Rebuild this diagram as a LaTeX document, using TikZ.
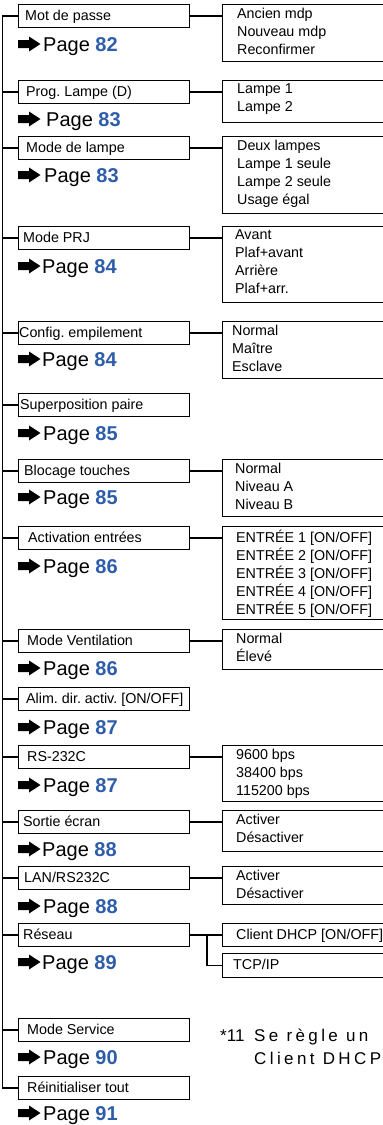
\documentclass[tikz,border=0pt]{standalone}
\usepackage{fontspec}
\setmainfont{Liberation Sans}
\newfontfamily\fnfont[LetterSpace=20]{Liberation Sans}
\definecolor{pgblue}{RGB}{46,94,170}
\tikzset{
  lbox/.style={draw, line width=1.1pt, anchor=north west, minimum width=171pt,
    minimum height=23pt, inner sep=0pt},
  ltext/.style={anchor=base west, inner sep=0pt, font=\fontsize{14.3}{17}\selectfont},
  rbox/.style={draw, line width=1.1pt, anchor=north west, minimum width=200pt, inner sep=0pt},
  items/.style={anchor=north west, inner sep=0pt, align=left,
    font=\fontsize{14.3}{18}\selectfont, execute at begin node=\strut},
  pagelbl/.style={anchor=base west, inner sep=0pt, font=\fontsize{20}{24}\selectfont},
  conn/.style={line width=1.4pt},
  fnote/.style={anchor=base west, inner sep=0pt, font=\fnfont\fontsize{17}{20}\selectfont},
  fmark/.style={anchor=base west, inner sep=0pt, font=\fontsize{17}{20}\selectfont}
}
\newcommand\lmenu[4]{%
  \node[lbox] (#1) at (18,#2) {};
  \node[ltext] (#1t) at (18+#3,#2+16.5) {#4};}
\newcommand\pg[4]{%
  \fill (18,#2-4) -- (29,#2-4) -- (29,#2-7.5) -- (40.5,#2) -- (29,#2+7.5) -- (29,#2+4) -- (18,#2+4) -- cycle;
  \node[pagelbl] (#1) at (#3,#2+7.2) {Page \textbf{\color{pgblue}#4}};}
\newcommand\rmenu[5]{%
  \node[rbox, minimum height=#3pt] (#1) at (222,#2) {};
  \node[items] (#1t) at (#4,#2+3.9) {#5};}
\begin{document}
\frenchspacing
\begin{tikzpicture}[x=1pt,y=-1pt]
\useasboundingbox (0,0) rectangle (383,1125);
\clip (0,0) rectangle (383,1125);
\coordinate (trunk) at (2.5,0);
\coordinate (rj) at (207,0);
% left menu boxes
\lmenu{b1}{4}{7}{Mot de passe}
\lmenu{b2}{80}{8}{Prog. Lampe (D)}
\lmenu{b3}{136}{8}{Mode de lampe}
\lmenu{b4}{226}{5}{Mode PRJ}
\lmenu{b5}{321}{1}{Config. empilement}
\lmenu{b6}{393}{2}{Superposition paire}
\lmenu{b7}{459}{6}{Blocage touches}
\lmenu{b8}{526}{10}{Activation entrées}
\lmenu{b9}{629}{9}{Mode Ventilation}
\lmenu{b10}{687}{8}{Alim. dir. activ. [ON/OFF]}
\lmenu{b11}{745}{9}{RS-232C}
\lmenu{b12}{810}{5}{Sortie écran}
\lmenu{b13}{866}{6}{LAN/RS232C}
\lmenu{b14}{923}{5}{Réseau}
\lmenu{b15}{1018}{9}{Mode Service}
\lmenu{b16}{1076}{9}{Réinitialiser tout}
% page references
\pg{p1}{44}{43}{82}
\pg{p2}{119}{46}{83}
\pg{p3}{175}{44}{83}
\pg{p4}{266}{42}{84}
\pg{p5}{359}{42}{84}
\pg{p6}{433}{43}{85}
\pg{p7}{497}{43}{85}
\pg{p8}{566}{43}{86}
\pg{p9}{668}{43}{86}
\pg{p10}{727}{43}{87}
\pg{p11}{785}{43}{87}
\pg{p12}{849}{42}{88}
\pg{p13}{906}{43}{88}
\pg{p14}{962}{42}{89}
\pg{p15}{1057}{43}{90}
\pg{p16}{1113}{43}{91}
% right option boxes
\rmenu{r1}{4}{57}{237}{Ancien mdp\\Nouveau mdp\\Reconfirmer}
\rmenu{r2}{80}{42}{237}{Lampe 1\\Lampe 2}
\rmenu{r3}{136}{77}{237}{Deux lampes\\Lampe 1 seule\\Lampe 2 seule\\Usage égal}
\rmenu{r4}{226}{76}{235}{Avant\\Plaf+avant\\Arrière\\Plaf+arr.}
\rmenu{r5}{321}{57}{232}{Normal\\Maître\\Esclave}
\rmenu{r7}{459}{57}{235}{Normal\\Niveau A\\Niveau B}
\rmenu{r8}{526}{93}{236}{ENTRÉE 1 [ON/OFF]\\ENTRÉE 2 [ON/OFF]\\ENTRÉE 3 [ON/OFF]\\ENTRÉE 4 [ON/OFF]\\ENTRÉE 5 [ON/OFF]}
\rmenu{r9}{629}{40}{236}{Normal\\Élevé}
\rmenu{r11}{745}{56}{236}{9600 bps\\38400 bps\\115200 bps}
\rmenu{r12}{810}{41}{236}{Activer\\Désactiver}
\rmenu{r13}{866}{38}{236}{Activer\\Désactiver}
\rmenu{r14a}{923}{23}{236}{Client DHCP [ON/OFF]}
\rmenu{r14b}{953}{24}{233}{TCP/IP}
% trunk and branches
\draw[conn] (b1.west) -| (trunk |- b16.west) -- (b16.west);
\foreach \b in {b2,b3,b4,b5,b6,b7,b8,b9,b10,b11,b12,b13,b14,b15}
  \draw[conn] (trunk |- \b.west) -- (\b.west);
% connectors to option boxes
\foreach \b/\r in {b1/r1,b2/r2,b3/r3,b4/r4,b5/r5,b7/r7,b8/r8,b9/r9,b11/r11,b12/r12,b13/r13,b14/r14a}
  \draw[conn] (\b.east) -- (\b.east -| \r.west);
\draw[conn] (rj |- b14.east) |- (r14b.west);
% footnote
\node[fmark] (fn1) at (220,1041) {*11};
\node[fnote] (fn2) at (254,1041) {Se règle un};
\node[fnote] (fn3) at (254,1064) {Client DHCP};
\end{tikzpicture}
\end{document}
